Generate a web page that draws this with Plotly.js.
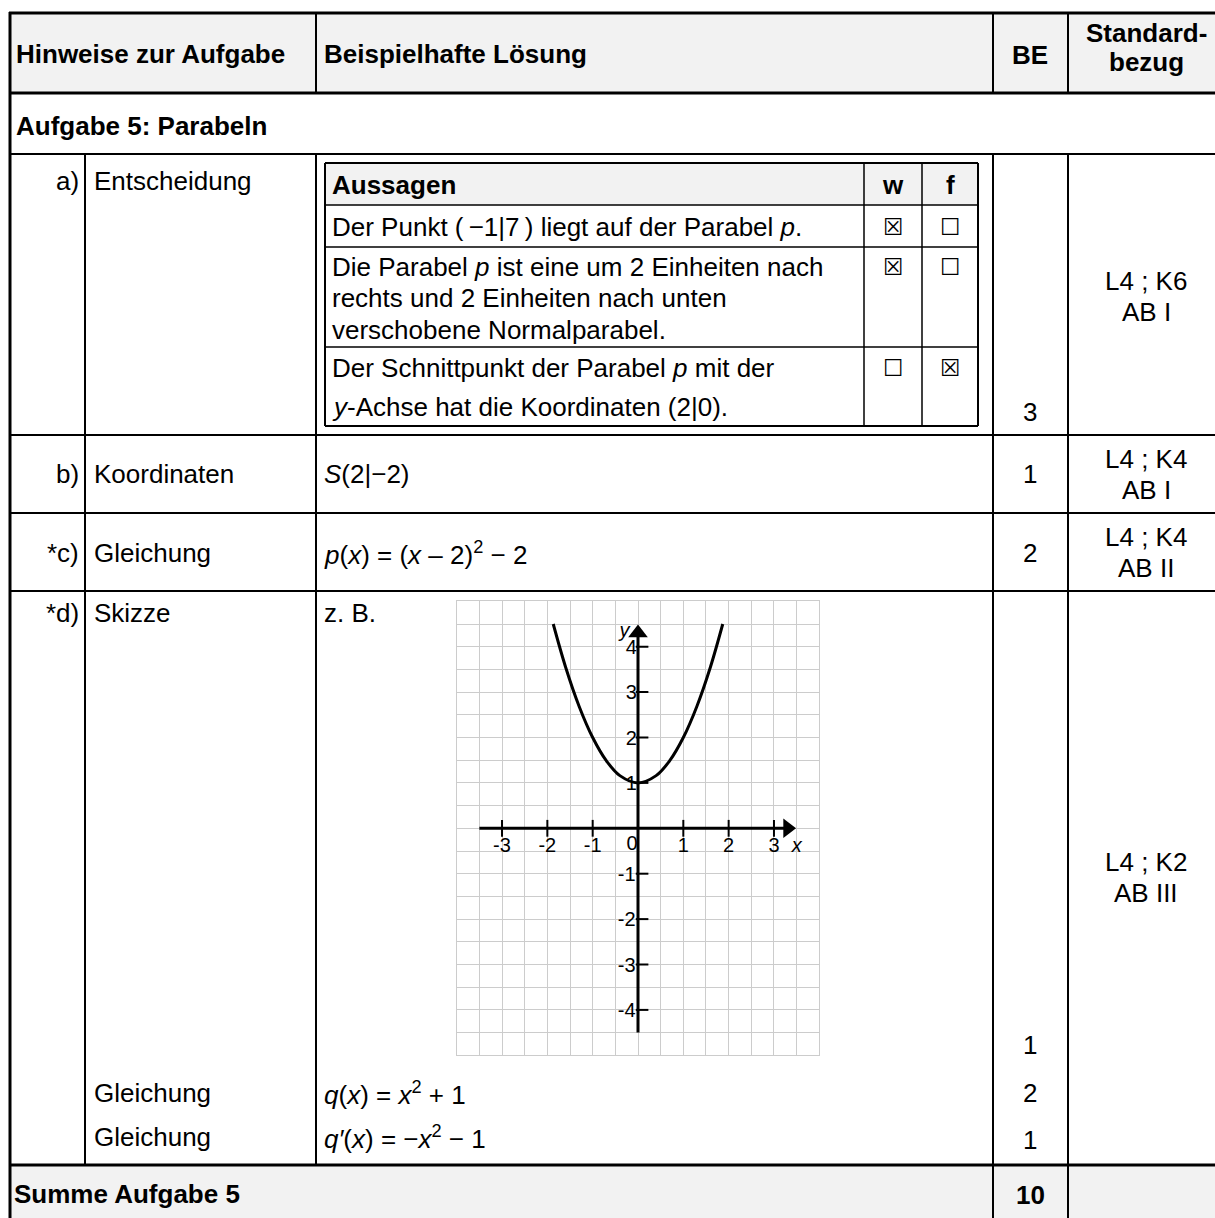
<!DOCTYPE html>
<html>
<head>
<meta charset="utf-8">
<script src="https://cdn.plot.ly/plotly-3.0.1.min.js"></script>
<style>
  html, body { margin: 0; padding: 0; background: #fff; }
  #page { width: 1215px; height: 1218px; }
</style>
</head>
<body>
<div id="page"></div>
<script>
// page size, table drawn in pixel coords converted to paper
var W = 1215, H = 1218;
var FONT = '"Liberation Sans", Arial, sans-serif';

// --- table content ---
var headers = ['Hinweise zur Aufgabe', 'Beispielhafte Lösung', 'BE'];
var standardHeader = ['Standard-', 'bezug'];
var taskTitle = 'Aufgabe 5: Parabeln';
var partLabels = ['a)', 'b)', '*c)', '*d)', '', ''];
var hintTexts = ['Entscheidung', 'Koordinaten', 'Gleichung', 'Skizze', 'Gleichung', 'Gleichung'];
var solutionTexts = [
  '',
  '<i>S</i>(2|−2)',
  '<i>p</i>(<i>x</i>) = (<i>x</i> – 2)<sup>2</sup> − 2',
  'z. B.',
  '<i>q</i>(<i>x</i>) = <i>x</i><sup>2</sup> + 1',
  '<i>q′</i>(<i>x</i>) = −<i>x</i><sup>2</sup> − 1'
];
var beValues = ['3', '1', '2', '1', '2', '1'];
var beTotal = '10';
var standards = [['L4 ; K6', 'AB I'], ['L4 ; K4', 'AB I'], ['L4 ; K4', 'AB II'], ['L4 ; K2', 'AB III']];
var sumLabel = 'Summe Aufgabe 5';

var statementHead = ['Aussagen', 'w', 'f'];
var statementLines = [
  ['Der Punkt (\u2009−1|7\u2009) liegt auf der Parabel <i>p</i>.'],
  ['Die Parabel <i>p</i> ist eine um 2 Einheiten nach', 'rechts und 2 Einheiten nach unten', 'verschobene Normalparabel.'],
  ['Der Schnittpunkt der Parabel <i>p</i> mit der', '<i>y</i>-Achse hat die Koordinaten (2|0).']
];
var answerW = [true, true, false];
var answerF = [false, false, true];

// --- sketch content ---
var curveX = [-1.87, -1.6, -1.3, -1.0, -0.7, -0.4, 0, 0.4, 0.7, 1.0, 1.3, 1.6, 1.87];
var curveY = [4.5, 3.56, 2.69, 2.0, 1.49, 1.16, 1.0, 1.16, 1.49, 2.0, 2.69, 3.56, 4.5];
var xTicks = [-3, -2, -1, 1, 2, 3];
var yTicks = [-4, -3, -2, -1, 1, 2, 3, 4];
var xAxisSpan = [-3.5, 3.3];
var yAxisSpan = [-4.5, 4.3];

// --- layout positions (pixels) ---
var rowY = [181, 474, 553, 613, 1093, 1137];
var beY = [412, 474, 553, 1045, 1093, 1140];
var standardY = [[281, 312], [459, 490], [537, 568], [862, 893]];
var stmtY = [[227], [267, 298, 330], [368, 407]];
var stmtBoxY = [227, 267, 368];

function px(x) { return x / W; }
function py(y) { return 1 - y / H; }

var shapes = [];
function hline(y, x0, x1, w) {
  shapes.push({type: 'line', xref: 'paper', yref: 'paper', x0: px(x0), x1: px(x1), y0: py(y), y1: py(y),
    line: {color: '#000', width: w}, layer: 'above'});
}
function vline(x, y0, y1, w) {
  shapes.push({type: 'line', xref: 'paper', yref: 'paper', x0: px(x), x1: px(x), y0: py(y0), y1: py(y1),
    line: {color: '#000', width: w}, layer: 'above'});
}
function fill(x0, y0, x1, y1, c) {
  shapes.push({type: 'rect', xref: 'paper', yref: 'paper', x0: px(x0), x1: px(x1), y0: py(y0), y1: py(y1),
    fillcolor: c, line: {width: 0}, layer: 'below'});
}

// backgrounds
fill(10, 13, W, 93, '#f2f2f2');
fill(10, 1165, W, H, '#f2f2f2');
fill(325, 163, 978, 205, '#f2f2f2');

// outer frame and rows
hline(13, 9, W, 3);
vline(10, 12, H, 3);
hline(93, 10, W, 3);
hline(154, 10, W, 2);
hline(435, 10, W, 2);
hline(513, 10, W, 2);
hline(591, 10, W, 2);
hline(1165, 10, W, 3);

// columns
vline(316, 13, 93, 2);
vline(993, 13, 93, 2);
vline(1068, 13, 93, 2);
vline(85, 154, 1165, 2);
vline(316, 154, 1165, 2);
vline(993, 154, H, 2);
vline(1068, 154, H, 2);

// statements table
hline(163, 325, 978, 2);
hline(426, 325, 978, 2);
vline(325, 163, 426, 2);
vline(978, 163, 426, 2);
hline(205, 325, 978, 1.5);
hline(247, 325, 978, 1.5);
hline(347, 325, 978, 1.5);
vline(864, 163, 426, 1.5);
vline(922, 163, 426, 1.5);

var annotations = [];
function txt(x, y, s, opt) {
  opt = opt || {};
  annotations.push({xref: 'paper', yref: 'paper', x: px(x), y: py(y), text: s, showarrow: false,
    xanchor: opt.anchor || 'left', yanchor: 'middle',
    font: {family: opt.family || FONT, size: opt.size || 26, color: '#000'}});
}
function b(s) { return '<b>' + s + '</b>'; }

// header
txt(14, 54, b(headers[0]));
txt(322, 54, b(headers[1]));
txt(1030, 55, b(headers[2]), {anchor: 'center'});
txt(1146, 33, b(standardHeader[0]), {anchor: 'center'});
txt(1146, 62, b(standardHeader[1]), {anchor: 'center'});
txt(14, 126, b(taskTitle));

// rows
partLabels.forEach(function (s, i) { if (s) txt(81, rowY[i], s, {anchor: 'right'}); });
hintTexts.forEach(function (s, i) { txt(92, rowY[i], s); });
solutionTexts.forEach(function (s, i) { if (s) txt(322, rowY[i], s); });
beValues.forEach(function (s, i) { txt(1030, beY[i], s, {anchor: 'center'}); });
standards.forEach(function (pair, i) {
  txt(1146, standardY[i][0], pair[0], {anchor: 'center'});
  txt(1146, standardY[i][1], pair[1], {anchor: 'center'});
});
txt(12, 1194, b(sumLabel));
txt(1030, 1195, b(beTotal), {anchor: 'center'});

// statements
txt(330, 185, b(statementHead[0]));
txt(893, 185, b(statementHead[1]), {anchor: 'center'});
txt(950, 185, b(statementHead[2]), {anchor: 'center'});
statementLines.forEach(function (lines, i) {
  lines.forEach(function (s, j) { txt(330, stmtY[i][j], s); });
  txt(893, stmtBoxY[i], answerW[i] ? '☒' : '☐', {anchor: 'center', size: 23, family: '"DejaVu Sans", sans-serif'});
  txt(950, stmtBoxY[i], answerF[i] ? '☒' : '☐', {anchor: 'center', size: 23, family: '"DejaVu Sans", sans-serif'});
});

// --- sketch traces ---
var tickFont = {family: FONT, size: 20, color: '#000'};
var nameFont = {family: FONT, size: 20, color: '#000'};
var data = [
  {x: xAxisSpan, y: [0, 0], mode: 'lines', line: {color: '#000', width: 3}, hoverinfo: 'skip'},
  {x: [0, 0], y: yAxisSpan, mode: 'lines', line: {color: '#000', width: 3}, hoverinfo: 'skip'},
  {x: [3.3, 0], y: [0, 4.3], mode: 'markers', hoverinfo: 'skip', cliponaxis: false,
    marker: {symbol: ['triangle-right', 'triangle-up'], size: 17, color: '#000'}},
  {x: xTicks, y: xTicks.map(function () { return 0; }), mode: 'markers', hoverinfo: 'skip',
    marker: {symbol: 'line-ns', size: 12, line: {color: '#000', width: 2}}},
  {x: yTicks.map(function () { return 0.09; }), y: yTicks, mode: 'markers', hoverinfo: 'skip',
    marker: {symbol: 'line-ew', size: 9, line: {color: '#000', width: 2}}},
  {x: curveX, y: curveY, mode: 'lines', line: {color: '#000', width: 3, shape: 'spline'}, hoverinfo: 'skip'},
  {x: xTicks, y: xTicks.map(function () { return -0.42; }), mode: 'text', cliponaxis: false,
    text: xTicks.map(String), textposition: 'middle center', textfont: tickFont, hoverinfo: 'skip'},
  {x: yTicks.map(function (v) { return v < 0 ? -0.25 : -0.15; }), y: yTicks.map(function (v) { return v - 0.05; }),
    mode: 'text', cliponaxis: false,
    text: yTicks.map(String), textposition: 'middle center', textfont: tickFont, hoverinfo: 'skip'},
  {x: [-0.13], y: [-0.36], mode: 'text', cliponaxis: false,
    text: ['0'], textposition: 'middle center', textfont: tickFont, hoverinfo: 'skip'},
  {x: [3.5, -0.3], y: [-0.42, 4.32], mode: 'text', cliponaxis: false,
    text: ['<i>x</i>', '<i>y</i>'], textposition: 'middle center', textfont: nameFont, hoverinfo: 'skip'}
];

var gridAxis = {
  showgrid: true, gridcolor: '#cccccc', gridwidth: 1, dtick: 0.5, tick0: 0,
  zeroline: false, showticklabels: false, ticks: '',
  showline: true, mirror: true, linecolor: '#cccccc', linewidth: 1, fixedrange: true
};

var layout = {
  width: W, height: H,
  margin: {l: 0, r: 0, t: 0, b: 0},
  paper_bgcolor: '#fff', plot_bgcolor: '#fff',
  showlegend: false,
  xaxis: Object.assign({}, gridAxis, {domain: [px(456.7), px(819.3)], range: [-4, 4]}),
  yaxis: Object.assign({}, gridAxis, {domain: [py(1055.3), py(601.3)], range: [-5, 5]}),
  shapes: shapes,
  annotations: annotations
};

Plotly.newPlot('page', data, layout, {staticPlot: true, displayModeBar: false});
</script>
</body>
</html>
